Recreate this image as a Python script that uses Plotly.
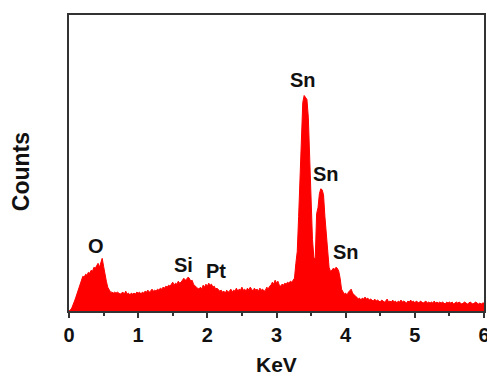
import plotly.graph_objects as go

# EDS spectrum: counts per 0.02 KeV channel, 0.00 .. 6.00 KeV
counts = [
    0, 1, 3, 6, 10, 14, 18, 22, 25, 30,
    35, 34, 37, 36, 39, 38, 41, 40, 44, 43,
    46, 48, 44, 50, 53, 45, 36, 30, 24, 21,
    19, 19, 18, 19, 18, 19, 18, 17, 18, 19,
    17, 20, 17, 18, 16, 18, 17, 18, 17, 19,
    18, 19, 17, 19, 18, 20, 19, 21, 19, 20,
    22, 20, 21, 20, 22, 21, 23, 22, 24, 23,
    25, 24, 26, 25, 27, 29, 26, 28, 27, 30,
    28, 29, 31, 33, 31, 32, 34, 33, 30, 31,
    27, 25, 24, 23, 22, 24, 22, 26, 24, 27,
    25, 28, 26, 27, 24, 25, 22, 23, 21, 20,
    21, 19, 20, 18, 21, 19, 20, 22, 19, 21,
    20, 23, 20, 22, 21, 24, 21, 22, 20, 23,
    21, 24, 22, 20, 23, 21, 22, 20, 23, 21,
    22, 20, 21, 24, 22, 25, 26, 29, 27, 31,
    28, 30, 26, 25, 27, 26, 28, 27, 29, 28,
    30, 29, 31, 33, 48, 60, 95, 128, 170, 210,
    217, 215, 213, 195, 150, 110, 72, 54, 52, 98,
    104, 118, 123, 122, 117, 95, 75, 55, 44, 40,
    41, 43, 42, 44, 43, 40, 33, 22, 19, 17,
    18, 16, 19, 21, 22, 18, 16, 15, 14, 12,
    13, 11, 13, 12, 14, 12, 13, 11, 12, 11,
    10, 12, 10, 11, 10, 9, 11, 10, 9, 10,
    12, 9, 10, 9, 11, 9, 10, 8, 10, 9,
    11, 9, 10, 9, 8, 10, 9, 11, 9, 10,
    8, 10, 9, 8, 10, 9, 8, 9, 10, 8,
    9, 8, 9, 8, 10, 8, 9, 8, 9, 8,
    9, 8, 7, 9, 8, 9, 8, 9, 7, 8,
    9, 8, 9, 8, 7, 8, 9, 8, 7, 8,
    9, 8, 7, 8, 9, 8, 7, 8, 7, 8,
    8,
]
channel_width = 0.02
energy = [round(i * channel_width, 2) for i in range(len(counts))]

# Peak labels
peak_labels = ["O", "Si", "Pt", "Sn", "Sn", "Sn"]
peak_x = [0.39, 1.65, 2.12, 3.38, 3.71, 4.00]
peak_y = [65, 46, 40, 233, 138, 59]

x_ticks = [0, 1, 2, 3, 4, 5, 6]

FONT = "Liberation Sans, Arial, sans-serif"

fig = go.Figure()
fig.add_trace(go.Scatter(
    x=energy, y=counts, mode="lines", fill="tozeroy",
    line=dict(color="#ff0000", width=1), fillcolor="#ff0000",
    hoverinfo="skip", showlegend=False,
))

for t, px, py in zip(peak_labels, peak_x, peak_y):
    fig.add_annotation(x=px, y=py, xref="x", yref="y", text="<b>%s</b>" % t,
                       xanchor="center", yanchor="middle",
                       showarrow=False, font=dict(family=FONT, size=20, color="#111"))

fig.add_annotation(x=0.501, y=-0.181, xref="paper", yref="paper", text="<b>KeV</b>",
                   xanchor="center", yanchor="middle",
                   showarrow=False, font=dict(family=FONT, size=21, color="#111"))
fig.add_annotation(x=-0.115, y=0.47, xref="paper", yref="paper", text="<b>Counts</b>",
                   xanchor="center", yanchor="middle",
                   textangle=-90, showarrow=False, font=dict(family=FONT, size=23, color="#111"))

# page body has an 8px margin, so the figure is drawn 8px smaller and offset
fig.update_layout(
    width=487, height=369,
    margin=dict(l=61, r=11, t=5, b=66),
    paper_bgcolor="white", plot_bgcolor="white",
    font=dict(family=FONT, color="#111"),
)
fig.update_xaxes(
    range=[0, 6], tickvals=x_ticks, ticktext=["<b>%d</b>" % v for v in x_ticks],
    ticks="outside", ticklen=5, tickwidth=1.5, tickcolor="#333",
    minor=dict(ticks="outside", ticklen=3, tickwidth=1.5, tickcolor="#333", dtick=0.5, tick0=0),
    showline=True, linecolor="#333", linewidth=1.5, mirror=True,
    showgrid=False, zeroline=False, tickfont=dict(family=FONT, size=20, color="#111"),
)
fig.update_yaxes(
    range=[0, 298], showticklabels=False, ticks="",
    showline=True, linecolor="#333", linewidth=1.5, mirror=True,
    showgrid=False, zeroline=False,
)

fig.write_html("out.html", config={"displayModeBar": False})
